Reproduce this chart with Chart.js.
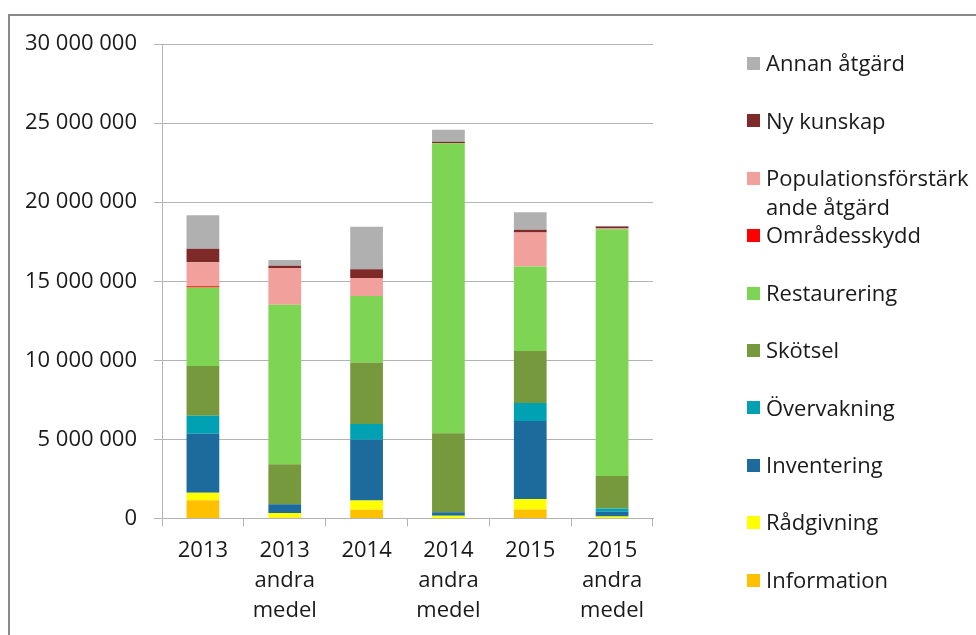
<!DOCTYPE html>
<html><head><meta charset="utf-8">
<script src="https://cdn.jsdelivr.net/npm/chart.js@4.4.0/dist/chart.umd.min.js"></script>
<style>
html,body{margin:0;padding:0;background:#fff;}
#wrap{position:relative;width:976px;height:635px;overflow:hidden;}
#frame{position:absolute;left:8px;top:14px;width:1100px;height:800px;border:2px solid #8a8a8a;box-sizing:border-box;}
canvas{position:absolute;left:0;top:0;}
</style></head><body>
<div id="wrap"><div id="frame"></div><canvas id="c" width="976" height="635"></canvas></div>
<script>
const categories = ['2013', ['2013','andra','medel'], '2014', ['2014','andra','medel'], '2015', ['2015','andra','medel']];

const information   = [1160000,   50000,  550000,    20000,  570000,    20000];
const radgivning    = [ 470000,  300000,  590000,   150000,  670000,   100000];
const inventering   = [3730000,  550000, 3840000,   220000, 4920000,   300000];
const overvakning   = [1140000,       0,  990000,        0, 1140000,   210000];
const skotsel       = [3140000, 2530000, 3900000,  5000000, 3290000,  2060000];
const restaurering  = [4960000,10080000, 4200000, 18330000, 5340000, 15600000];
const omradesskydd  = [  80000,       0,       0,        0,       0,        0];
const populations   = [1520000, 2320000, 1140000,        0, 2150000,    40000];
const nyKunskap     = [ 850000,  150000,  550000,   100000,  170000,   130000];
const annan         = [2130000,  360000, 2680000,   760000, 1120000,    30000];

const yTicks = { min: 0, max: 30000000, step: 5000000 };

const FONT = '"Open Sans", sans-serif';
const TXT = '#1a1a1a';
const GRID = '#b3b3b3';

function mk(label, data, color, legendText) {
  return { label, data, backgroundColor: color, borderWidth: 0,
           categoryPercentage: 1, barPercentage: 0.4, stack: 's',
           legendText: legendText || [label] };
}

const datasets = [
  mk('Information', information, '#ffc000'),
  mk('Rådgivning', radgivning, '#ffff00'),
  mk('Inventering', inventering, '#1c6b9c'),
  mk('Övervakning', overvakning, '#00a1b3'),
  mk('Skötsel', skotsel, '#77993d'),
  mk('Restaurering', restaurering, '#7ed553'),
  mk('Områdesskydd', omradesskydd, '#ff0000'),
  mk('Populationsförstärkande åtgärd', populations, '#f2a09c', ['Populationsförstärk','ande åtgärd']),
  mk('Ny kunskap', nyKunskap, '#7d2a28'),
  mk('Annan åtgärd', annan, '#b0b0b0')
];

const sideLegend = {
  id: 'sideLegend',
  afterDraw(chart, args, o) {
    const ctx = chart.ctx, a = chart.chartArea;
    const list = chart.data.datasets.slice().reverse();
    ctx.save();
    ctx.font = o.fontSize + 'px ' + FONT;
    ctx.textBaseline = 'middle';
    ctx.textAlign = 'left';
    list.forEach((d, i) => {
      const cy = a.top + o.offsetY + i * o.spacing;
      ctx.fillStyle = d.backgroundColor;
      ctx.fillRect(a.right + o.boxOffset, Math.round(cy - o.box / 2), o.box, o.box);
      ctx.fillStyle = TXT;
      d.legendText.forEach((t, j) => {
        ctx.fillText(t, a.right + o.textOffset, cy + 1.5 + j * o.lineGap);
      });
    });
    ctx.restore();
  }
};

const fmt = v => String(v).replace(/\B(?=(\d{3})+(?!\d))/g, ' ');

new Chart(document.getElementById('c'), {
  type: 'bar',
  data: { labels: categories, datasets },
  plugins: [sideLegend],
  options: {
    responsive: false,
    animation: false,
    devicePixelRatio: 1,
    layout: { padding: { left: 0, right: 323, top: 44, bottom: 0 } },
    plugins: {
      legend: { display: false },
      tooltip: { enabled: false },
      sideLegend: { fontSize: 22, offsetY: 19.5, spacing: 57.4, box: 13, boxOffset: 94, textOffset: 113, lineGap: 29 }
    },
    scales: {
      x: {
        stacked: true,
        grid: { display: true, drawOnChartArea: false, drawTicks: true, tickLength: 8, color: GRID, offset: true },
        border: { display: true, color: GRID },
        ticks: { color: TXT, font: { family: FONT, size: 22, lineHeight: 1.36 }, padding: 9, maxRotation: 0, autoSkip: false },
        afterFit: s => { s.height = 116.5; }
      },
      y: {
        stacked: true,
        min: yTicks.min, max: yTicks.max,
        grid: { color: GRID, tickLength: 8, drawTicks: true },
        border: { display: true, color: GRID },
        ticks: { stepSize: yTicks.step, callback: fmt, color: TXT, padding: 17, font: { family: FONT, size: 22 } },
        afterFit: s => { s.width = 162; }
      }
    }
  }
});
</script>
</body></html>
